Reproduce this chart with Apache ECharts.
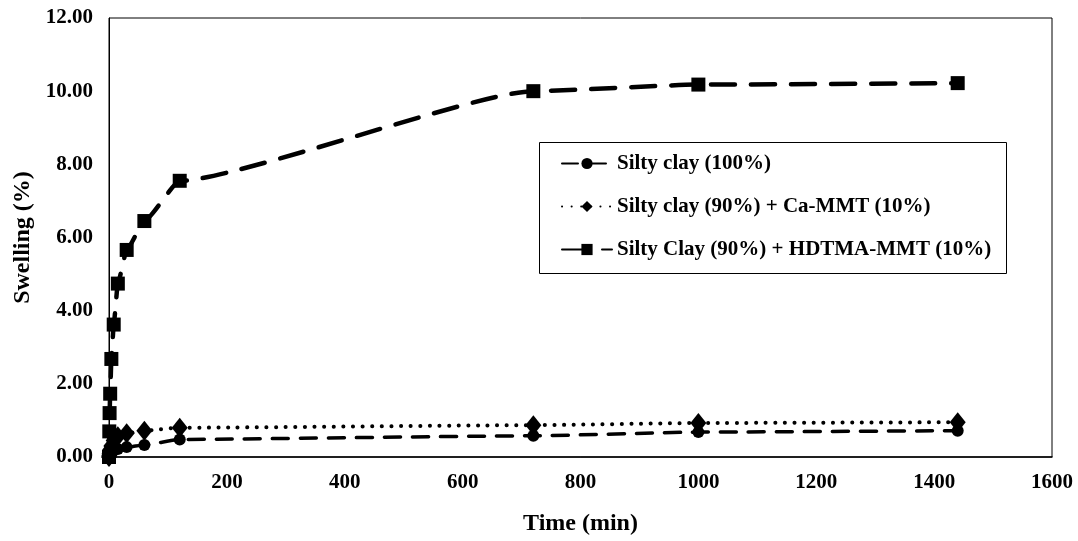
<!DOCTYPE html>
<html><head><meta charset="utf-8">
<script src="https://cdn.jsdelivr.net/npm/echarts@6/dist/echarts.min.js"></script>
<style>html,body{margin:0;padding:0;background:#fff}#c{width:1078px;height:541px}</style>
</head><body><div id="c"></div>
<script>
const times = [0, 0.5, 1, 2, 4, 8, 15, 30, 60, 120, 720, 1000, 1440];
const siltyClay = [0, 0.02, 0.04, 0.08, 0.12, 0.18, 0.22, 0.27, 0.33, 0.48, 0.58, 0.68, 0.72];
const caMMT = [0, 0.05, 0.1, 0.2, 0.3, 0.45, 0.57, 0.65, 0.72, 0.8, 0.87, 0.93, 0.95];
const hdtmaMMT = [0, 0.7, 1.2, 1.73, 2.68, 3.62, 4.74, 5.66, 6.45, 7.55, 10.0, 10.18, 10.22];
const seriesNames = ['Silty clay (100%)', 'Silty clay (90%) + Ca-MMT (10%)', 'Silty Clay (90%) + HDTMA-MMT (10%)'];
const xTicks = {min: 0, max: 1600, interval: 200};
const yTicks = {min: 0, max: 12, interval: 2};

const pair = arr => times.map((t, i) => [t, arr[i]]);
const font = '"Liberation Serif", "Times New Roman", serif';
const chart = echarts.init(document.getElementById('c'));
chart.setOption({
  animation: false,
  backgroundColor: '#fff',
  textStyle: {fontFamily: font},
  grid: {left: 109, top: 18, right: 26, bottom: 80, show: true, borderColor: '#000', borderWidth: 1, backgroundColor: 'transparent'},
  xAxis: {
    type: 'value', min: xTicks.min, max: xTicks.max, interval: xTicks.interval,
    name: 'Time (min)', nameLocation: 'middle', nameGap: 55,
    nameTextStyle: {fontFamily: font, fontWeight: 'bold', fontSize: 24, color: '#000'},
    axisLine: {show: true, lineStyle: {color: '#000', width: 1.5}},
    axisTick: {show: false}, splitLine: {show: false},
    axisLabel: {fontFamily: font, fontWeight: 'bold', fontSize: 21, color: '#000', margin: 15,
      formatter: v => String(v)}
  },
  yAxis: {
    type: 'value', min: yTicks.min, max: yTicks.max, interval: yTicks.interval,
    name: 'Swelling (%)', nameLocation: 'middle', nameGap: 74, nameRotate: 90,
    nameTextStyle: {fontFamily: font, fontWeight: 'bold', fontSize: 24, color: '#000'},
    axisLine: {show: true, lineStyle: {color: '#000', width: 1}},
    axisTick: {show: false}, splitLine: {show: false},
    axisLabel: {fontFamily: font, fontWeight: 'bold', fontSize: 21, color: '#000', margin: 16,
      formatter: v => v.toFixed(2)}
  },
  legend: {
    orient: 'vertical', left: 556, top: 148, itemGap: 22, itemWidth: 50, itemHeight: 14,
    textStyle: {fontFamily: font, fontWeight: 'bold', fontSize: 21, color: '#000'},
    data: seriesNames
  },
  graphic: [{type: 'rect', left: 537, top: 140, shape: {width: 467, height: 131},
    style: {fill: 'none', stroke: '#000', lineWidth: 1}, z: 0}],
  series: [
    {name: seriesNames[0], type: 'line', data: pair(siltyClay), smooth: 0.15, smoothMonotone: 'x',
     symbol: 'circle', symbolSize: 12, itemStyle: {color: '#000'},
     lineStyle: {color: '#000', width: 3.5, type: [16, 12], cap: 'round'}, z: 3},
    {name: seriesNames[1], type: 'line', data: pair(caMMT), smooth: 0.15, smoothMonotone: 'x',
     symbol: 'diamond', symbolSize: [16, 20], itemStyle: {color: '#000'},
     lineStyle: {color: '#000', width: 4, type: [0.1, 9.5], cap: 'round'}, z: 3},
    {name: seriesNames[2], type: 'line', data: pair(hdtmaMMT), smooth: 0.15, smoothMonotone: 'x',
     symbol: 'rect', symbolSize: 14, itemStyle: {color: '#000'},
     lineStyle: {color: '#000', width: 4.5, type: [24, 16], cap: 'round'}, z: 4}
  ]
});
</script></body></html>
